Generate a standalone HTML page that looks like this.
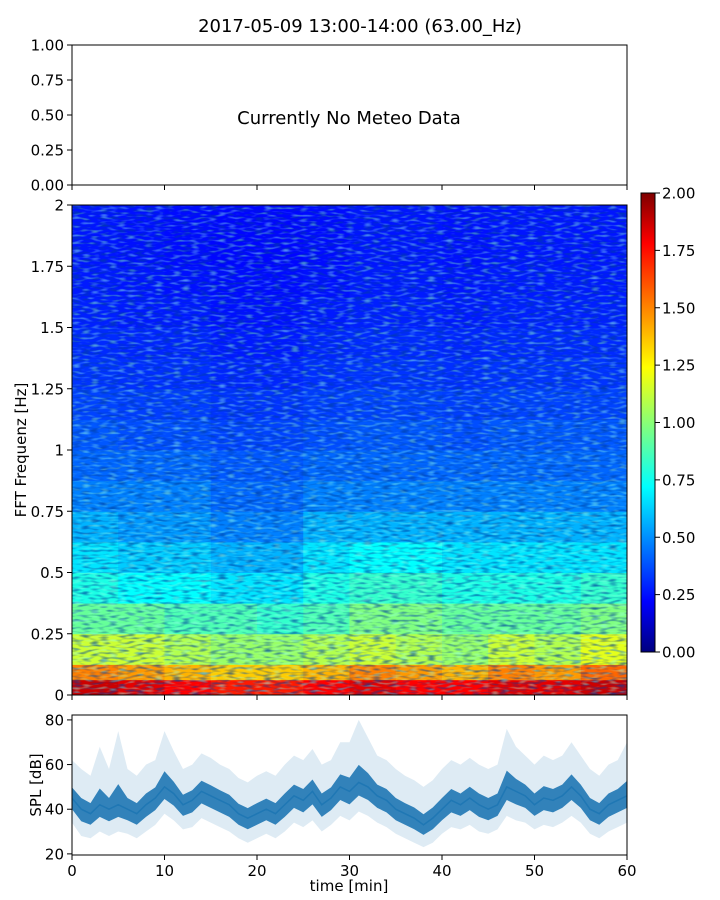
<!DOCTYPE html>
<html><head><meta charset="utf-8">
<style>
html,body{margin:0;padding:0;background:#fff;}
svg{display:block;font-family:"DejaVu Sans","Liberation Sans",sans-serif;}
</style></head>
<body>
<svg id="fig" width="720" height="900" viewBox="0 0 720 900">
<defs>
<linearGradient id="jet" x1="0" y1="1" x2="0" y2="0">
<stop offset="0" stop-color="#00007f"/><stop offset="0.11" stop-color="#0000ff"/>
<stop offset="0.36" stop-color="#00ffff"/><stop offset="0.62" stop-color="#ffff00"/>
<stop offset="0.89" stop-color="#ff0000"/><stop offset="1" stop-color="#7f0000"/>
</linearGradient>
<filter id="streaks" x="0" y="0" width="100%" height="100%">
<feTurbulence type="fractalNoise" baseFrequency="0.11 0.4" numOctaves="1" seed="7"/>
<feColorMatrix type="matrix" values="0 0 0 0 0  0 0 0 0 0.05  0 0 0 0 0.35  3 0 0 0 -1.4"/>
</filter>
<filter id="streaks2" x="0" y="0" width="100%" height="100%">
<feTurbulence type="fractalNoise" baseFrequency="0.11 0.4" numOctaves="1" seed="21"/>
<feColorMatrix type="matrix" values="0 0 0 0 0.3  0 0 0 0 1  0 0 0 0 0.8  3 0 0 0 -1.5"/>
</filter>
<clipPath id="specClip"><rect x="72" y="205" width="555" height="490"/></clipPath>
</defs>
<text x="360" y="32" text-anchor="middle" font-size="18">2017-05-09 13:00-14:00 (63.00_Hz)</text>

<g id="meteo">
<rect x="72" y="45" width="555" height="140" fill="none" stroke="#000" stroke-width="1"/>
<text x="349" y="124" text-anchor="middle" font-size="18">Currently No Meteo Data</text>
</g>

<g id="spec"></g>
<g id="cbar"></g>
<g id="spl"></g>
</svg>

<script>
// ---------- data ----------
const meteoTicks = ["0.00","0.25","0.50","0.75","1.00"];
const timeTicks = [0,10,20,30,40,50,60];
const freqTicks = [0,0.25,0.5,0.75,1,1.25,1.5,1.75,2];
const freqTickLabels = ["0","0.25","0.5","0.75","1","1.25","1.5","1.75","2"];
const cbarTicks = ["0.00","0.25","0.50","0.75","1.00","1.25","1.50","1.75","2.00"];
const splTicks = [20,40,60,80];
const specTimes = [0,5,10,15,20,25,30,35,40,45,50,55];
const specFreqs = [0,0.0625,0.125,0.25,0.375,0.5,0.625,0.75,0.875,1,1.125,1.25,1.375,1.5,1.625,1.75,1.875];
const specWidths = [0.0625,0.0625,0.125,0.125,0.125,0.125,0.125,0.125,0.125,0.125,0.125,0.125,0.125,0.125,0.125,0.125,0.125];
const specValues = [
 [1.85,1.8,1.75,1.7,1.7,1.75,1.8,1.75,1.75,1.8,1.8,1.85],
 [1.5,1.45,1.4,1.35,1.35,1.4,1.5,1.45,1.4,1.5,1.45,1.55],
 [1.15,1.15,1.1,1.05,1.05,1.1,1.15,1.1,1.05,1.15,1.1,1.2],
 [0.95,0.95,0.9,0.9,0.85,0.9,1.0,1.0,0.95,0.95,0.95,1.0],
 [0.8,0.75,0.75,0.7,0.7,0.8,0.85,0.85,0.8,0.8,0.8,0.85],
 [0.7,0.65,0.65,0.6,0.6,0.7,0.75,0.75,0.7,0.7,0.7,0.7],
 [0.6,0.55,0.55,0.5,0.5,0.6,0.6,0.6,0.6,0.6,0.6,0.6],
 [0.5,0.5,0.5,0.45,0.45,0.5,0.5,0.5,0.5,0.5,0.5,0.5],
 [0.45,0.45,0.45,0.42,0.42,0.45,0.45,0.45,0.45,0.45,0.45,0.45],
 [0.42,0.4,0.4,0.38,0.38,0.4,0.42,0.42,0.4,0.42,0.42,0.42],
 [0.38,0.37,0.37,0.35,0.35,0.37,0.38,0.38,0.37,0.38,0.38,0.38],
 [0.35,0.34,0.34,0.32,0.32,0.34,0.35,0.35,0.34,0.35,0.35,0.35],
 [0.33,0.32,0.32,0.3,0.3,0.32,0.33,0.33,0.32,0.33,0.33,0.33],
 [0.31,0.3,0.3,0.28,0.28,0.3,0.31,0.31,0.3,0.31,0.31,0.31],
 [0.3,0.29,0.28,0.27,0.27,0.28,0.3,0.3,0.29,0.3,0.3,0.3],
 [0.29,0.28,0.27,0.26,0.26,0.27,0.29,0.29,0.28,0.29,0.29,0.29],
 [0.29,0.28,0.27,0.26,0.26,0.27,0.29,0.29,0.28,0.29,0.29,0.29]
];
const splMinutes = [0,1,2,3,4,5,6,7,8,9,10,11,12,13,14,15,16,17,18,19,20,21,22,23,24,25,26,27,28,29,30,31,32,33,34,35,36,37,38,39,40,41,42,43,44,45,46,47,48,49,50,51,52,53,54,55,56,57,58,59,60];
const splMean = [45,40,38,42,40,42,40,38,42,45,50,47,42,44,48,46,44,42,38,36,38,40,38,42,46,44,48,42,45,50,48,52,50,46,44,40,38,36,33,36,40,44,42,45,42,40,42,50,48,46,42,45,44,46,50,46,40,38,42,44,46];
const splLow = [34,28,27,30,28,30,29,27,30,33,38,35,31,32,36,34,32,30,27,25,27,29,27,30,34,32,35,30,33,37,35,39,37,34,32,29,27,25,23,25,29,32,31,33,30,29,31,37,35,34,31,33,32,34,37,34,29,27,30,32,34];
const splHigh = [62,58,55,68,58,75,58,55,60,62,75,66,58,60,65,63,60,58,54,52,55,57,55,60,64,62,67,60,62,70,70,80,72,64,62,58,55,53,50,53,58,62,60,63,60,58,60,76,68,64,60,64,62,64,70,64,58,55,60,62,70];

// ---------- helpers ----------
const NS="http://www.w3.org/2000/svg";
function mk(parent,tag,attrs,text){const e=document.createElementNS(NS,tag);for(const k in attrs)e.setAttribute(k,attrs[k]);if(text!==undefined)e.textContent=text;parent.appendChild(e);return e;}
function jet(t){t=Math.max(0,Math.min(1,t));
 const r=Math.max(0,Math.min(1,Math.min(4*t-1.5,-4*t+4.5)));
 const g=Math.max(0,Math.min(1,Math.min(4*t-0.5,-4*t+3.5)));
 const b=Math.max(0,Math.min(1,Math.min(4*t+0.5,-4*t+2.5)));
 return `rgb(${Math.round(r*255)},${Math.round(g*255)},${Math.round(b*255)})`;}
const X0=72,X1=627;
const xT=t=>X0+(t/60)*(X1-X0);

// ---------- meteo axes ----------
const meteo=document.getElementById('meteo');
meteoTicks.forEach((lab,i)=>{
 const y=185-i*35;
 const tk=mk(meteo,'line',{x1:67,x2:72,y1:y,y2:y,stroke:'#000'});
 
 
 const tx=mk(meteo,'text',{x:64,y:y+5.5,'text-anchor':'end','font-size':15},lab);
 
 
});
timeTicks.forEach(t=>{
 const tk=mk(meteo,'line',{x1:xT(t),x2:xT(t),y1:185,y2:190,stroke:'#000'});
 
 
});

// ---------- spectrogram ----------
const spec=document.getElementById('spec');
const SY0=695,SY1=205;
const yF=f=>SY0-(f/2)*(SY0-SY1);
const cells=mk(spec,'g',{'clip-path':'url(#specClip)'});


specFreqs.forEach((f,ri)=>{
 specTimes.forEach((t,ci)=>{
  const x=xT(t),w=xT(t+5)-x+0.5;
  const y=yF(f+specWidths[ri]),h=yF(f)-y+0.5;
  const r=mk(cells,'rect',{x:x,y:y,width:w,height:h,fill:jet(specValues[ri][ci]/2)});
  
  
 });
});
const tex=mk(cells,'rect',{x:72,y:205,width:555,height:490,filter:'url(#streaks)',opacity:0.7});


const tex2=mk(cells,'rect',{x:72,y:205,width:555,height:490,filter:'url(#streaks2)',opacity:0.55});


const sf=mk(spec,'rect',{x:72,y:205,width:555,height:490,fill:'none',stroke:'#000'});


freqTicks.forEach((f,i)=>{
 const y=yF(f);
 const tk=mk(spec,'line',{x1:67,x2:72,y1:y,y2:y,stroke:'#000'});
 
 
 const tx=mk(spec,'text',{x:64,y:y+5.5,'text-anchor':'end','font-size':15},freqTickLabels[i]);
 
 
});
timeTicks.forEach(t=>{
 const tk=mk(spec,'line',{x1:xT(t),x2:xT(t),y1:695,y2:700,stroke:'#000'});
 
 
});
const fl=mk(spec,'text',{x:0,y:0,transform:'translate(26,450) rotate(-90)','text-anchor':'middle','font-size':15},'FFT Frequenz [Hz]');



// ---------- colorbar ----------
const cbar=document.getElementById('cbar');
const CB0=652,CB1=193;
const cr=mk(cbar,'rect',{x:641,y:CB1,width:14,height:CB0-CB1,fill:'url(#jet)',stroke:'#000'});


cbarTicks.forEach((lab,i)=>{
 const y=CB0-i*(CB0-CB1)/8;
 const tk=mk(cbar,'line',{x1:655,x2:660,y1:y,y2:y,stroke:'#000'});
 
 
 const tx=mk(cbar,'text',{x:662,y:y+5.5,'font-size':15},lab);
 
 
});

// ---------- SPL ----------
const spl=document.getElementById('spl');
const PY0=855,PY1=715,VMIN=19.5,VMAX=82.2;
const yS=v=>PY0-(v-VMIN)/(VMAX-VMIN)*(PY0-PY1);
const envTop=[],envBot=[];
splMinutes.forEach((t,i)=>{envTop.push(`${xT(t)},${yS(splHigh[i])}`);envBot.unshift(`${xT(t)},${yS(splLow[i])}`);});
const b1=mk(spl,'polygon',{points:envTop.concat(envBot).join(' '),fill:'#1f77b4',opacity:0.15});


const coreTop=[],coreBot=[];
splMinutes.forEach((t,i)=>{coreTop.push(`${xT(t)},${yS(splMean[i]+(splHigh[i]-splMean[i])*0.28)}`);coreBot.unshift(`${xT(t)},${yS(splMean[i]-(splMean[i]-splLow[i])*0.45)}`);});
const b2=mk(spl,'polygon',{points:coreTop.concat(coreBot).join(' '),fill:'#1f77b4',opacity:0.9});


const ln=mk(spl,'polyline',{points:splMinutes.map((t,i)=>`${xT(t)},${yS(splMean[i])}`).join(' '),fill:'none',stroke:'#1f77b4','stroke-width':1.5});


const pf=mk(spl,'rect',{x:72,y:715,width:555,height:140,fill:'none',stroke:'#000'});


splTicks.forEach(v=>{
 const y=yS(v);
 const tk=mk(spl,'line',{x1:67,x2:72,y1:y,y2:y,stroke:'#000'});
 
 
 const tx=mk(spl,'text',{x:64,y:y+5.5,'text-anchor':'end','font-size':15},String(v));
 
 
});
timeTicks.forEach(t=>{
 const tk=mk(spl,'line',{x1:xT(t),x2:xT(t),y1:855,y2:860,stroke:'#000'});
 
 
 const tx=mk(spl,'text',{x:xT(t),y:876,'text-anchor':'middle','font-size':15},String(t));
 
 
});
const sl=mk(spl,'text',{x:0,y:0,transform:'translate(41,785) rotate(-90)','text-anchor':'middle','font-size':15},'SPL [dB]');


const xl=mk(spl,'text',{x:349,y:891,'text-anchor':'middle','font-size':15},'time [min]');


</script>
</body></html>
